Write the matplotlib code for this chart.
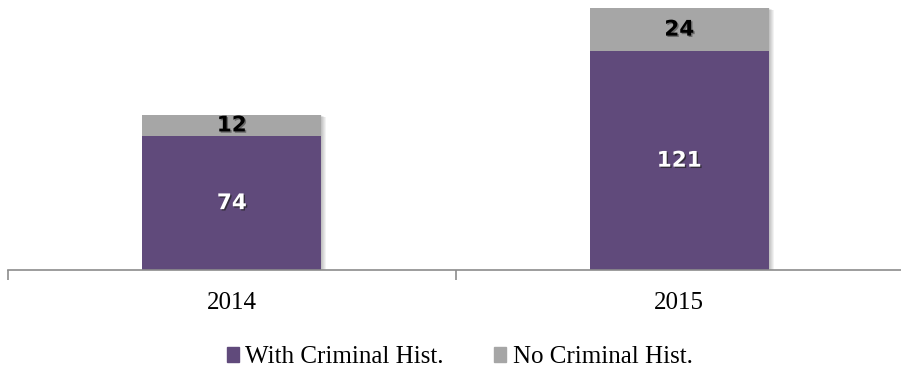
import matplotlib
matplotlib.use("Agg")
import matplotlib.pyplot as plt
import matplotlib.patheffects as pe
from matplotlib.patches import Patch
import numpy as np

# data
years = ["2014", "2015"]
with_hist = [74, 121]
no_hist = [12, 24]

COLOR_WITH = "#604a7b"
COLOR_NO = "#a6a6a6"
SERIF = ["Liberation Serif", "DejaVu Serif"]
BAR_W = 0.40

fig = plt.figure(figsize=(9.01, 3.71), dpi=100)
ax = fig.add_axes([8 / 901, 101 / 371, 895 / 901, 267.5 / 371])
ax.set_xlim(-0.5, 1.5)
ax.set_ylim(0, 148)

x = np.arange(len(years))
totals = np.array(with_hist) + np.array(no_hist)

# soft drop shadow behind each stack (a few faint offset layers)
px_x = 2.0 / 895
px_y = 148 / 267.5
for d in range(1, 6):
    ax.bar(x + d * px_x, totals, BAR_W, bottom=-d * px_y * 0.5, color="black",
           alpha=0.05, zorder=2, linewidth=0)

b1 = ax.bar(x, with_hist, BAR_W, color=COLOR_WITH, zorder=3, linewidth=0)
b2 = ax.bar(x, no_hist, BAR_W, bottom=with_hist, color=COLOR_NO, zorder=3, linewidth=0)

# value labels
for i in range(len(years)):
    ax.text(x[i], with_hist[i] / 2, str(with_hist[i]), ha="center", va="center",
            fontsize=15.5, fontweight="heavy", color="white", zorder=5,
            path_effects=[pe.withSimplePatchShadow(offset=(1.0, -1.0), shadow_rgbFace="#222222", alpha=0.7)])
    ax.text(x[i], with_hist[i] + no_hist[i] / 2, str(no_hist[i]), ha="center", va="center",
            fontsize=15.5, fontweight="heavy", color="black", zorder=5,
            path_effects=[pe.withSimplePatchShadow(offset=(1.0, -1.0), shadow_rgbFace="#444444", alpha=0.6)])

ax.set_yticks([])
for s in ["top", "right", "left"]:
    ax.spines[s].set_visible(False)
ax.spines["bottom"].set_color("#8c8c8c")
ax.spines["bottom"].set_linewidth(1.2)
ax.spines["bottom"].set_zorder(4)

ax.set_xticks(x)
ax.set_xticklabels(years, fontsize=18, family=SERIF)
ax.tick_params(axis="x", which="major", length=0, pad=16)
ax.set_xticks([-0.5, 0.5, 1.5], minor=True)
ax.tick_params(axis="x", which="minor", length=7, color="#8c8c8c", width=1.2)

handles = [Patch(color=COLOR_WITH, label="With Criminal Hist."),
           Patch(color=COLOR_NO, label="No Criminal Hist.")]
fig.legend(handles=handles, loc="center", bbox_to_anchor=(0.51, 0.037), ncol=2,
           frameon=False, prop={"family": SERIF, "size": 18},
           handlelength=0.5, handleheight=0.5, handletextpad=0.25, columnspacing=2.0)

fig.savefig("out.png", dpi=100)
